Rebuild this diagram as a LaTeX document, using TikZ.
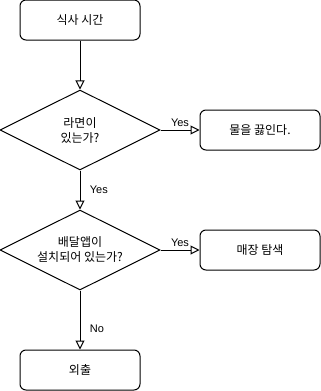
\documentclass[tikz,border=0pt]{standalone}
\usepackage{fontspec}
\setmainfont{Liberation Sans}
\newfontfamily\kr{Noto Sans CJK KR}
\usetikzlibrary{shapes.geometric,arrows.meta}
\begin{document}
\begin{tikzpicture}[x=1pt,y=-1pt,line width=1pt,
    box/.style={rectangle,draw,rounded corners=6pt,minimum width=120pt,minimum height=40pt,font=\kr\fontsize{12}{15}\selectfont},
    decision/.style={diamond,draw,aspect=2,minimum width=160pt,minimum height=80pt,inner sep=0pt,align=center,font=\kr\fontsize{12}{15}\selectfont},
    lbl/.style={font=\fontsize{11}{13}\selectfont},
    arr/.style={-{Triangle[open,length=9pt,width=9pt]}}
]
\useasboundingbox (0,0) rectangle (321,391);

\node[box]      (meal)    at (80,20)   {식사 시간};
\node[decision] (ramen)   at (80,130)  {라면이\\있는가?};
\node[box]      (boil)    at (260,130) {물을 끓인다.};
\node[decision] (app)     at (80,250)  {배달앱이\\설치되어 있는가?};
\node[box]      (search)  at (260,250) {매장 탐색};
\node[box]      (out)     at (80,370)  {외출};

\draw[arr] (meal) -- (ramen);
\draw[arr] (ramen) -- node[lbl,above] {Yes} (boil);
\draw[arr] (ramen) -- node[lbl,right=6pt] {Yes} (app);
\draw[arr] (app) -- node[lbl,above] {Yes} (search);
\draw[arr] (app) -- node[lbl,right=6pt,pos=0.65] {No} (out);
\end{tikzpicture}
\end{document}
